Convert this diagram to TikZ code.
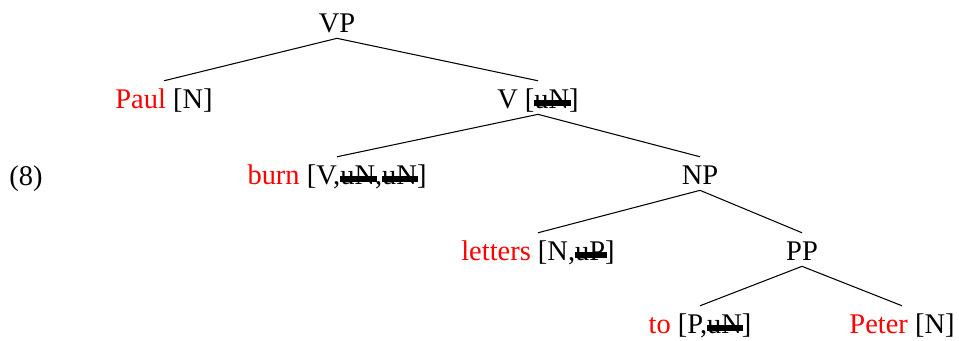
\documentclass[tikz,border=0pt]{standalone}
\usepackage{fontspec}
\setmainfont{Liberation Serif}
\usepackage{tikz}
\newcommand{\ufeat}[1]{\setbox0\hbox{#1}\rlap{\rule[0.07em]{\dimexpr\wd0+0.05em\relax}{0.21em}}\box0}
\begin{document}
\begin{tikzpicture}[every node/.style={font=\fontsize{16.2}{19}\selectfont, inner sep=0pt, text height=15.3pt, text depth=3.4pt, anchor=base},
  branch/.style={line width=0.6pt}]
\useasboundingbox (0,0) rectangle (19.18,6.8);
\node (ex) at (0.52,3.10) {(8)};
\node (vp) at (6.74,6.16) {VP};
\node (paul) at (3.28,4.64) {\textcolor{red}{Paul} [N]};
\node (vbar) at (10.76,4.64) {V [\ufeat{uN}]};
\node (burn) at (6.74,3.12) {\textcolor{red}{burn} [V,\ufeat{uN},\ufeat{uN}]};
\node (np) at (14.00,3.12) {NP};
\node (letters) at (10.76,1.60) {\textcolor{red}{letters} [N,\ufeat{uP}]};
\node (pp) at (16.04,1.60) {PP};
\node (to) at (14.00,0.14) {\textcolor{red}{to} [P,\ufeat{uN}]};
\node (peter) at (18.04,0.14) {\textcolor{red}{Peter} [N]};
\draw [branch] (vp.south) -- (paul.north);
\draw [branch] (vp.south) -- (vbar.north);
\draw [branch] (vbar.south) -- (burn.north);
\draw [branch] (vbar.south) -- (np.north);
\draw [branch] (np.south) -- (letters.north);
\draw [branch] (np.south) -- (pp.north);
\draw [branch] (pp.south) -- (to.north);
\draw [branch] (pp.south) -- (peter.north);
\end{tikzpicture}
\end{document}
